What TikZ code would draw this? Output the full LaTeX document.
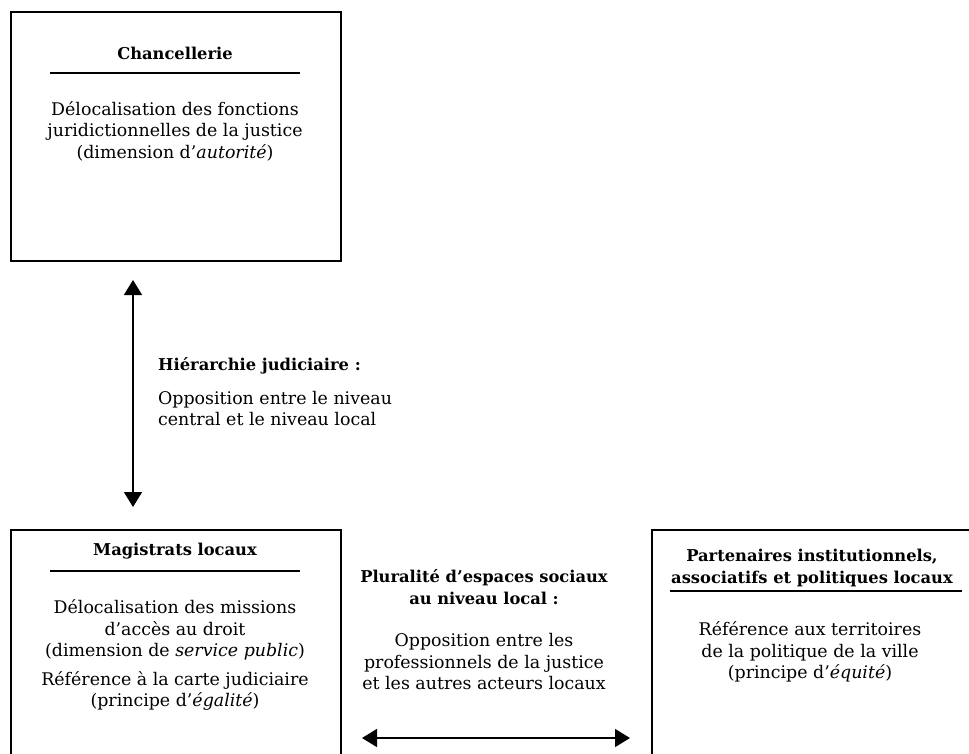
\documentclass[tikz,border=0pt]{standalone}
\usepackage{fontspec}
\setmainfont{DejaVu Serif}
\usetikzlibrary{positioning,arrows.meta}

\begin{document}
\begin{tikzpicture}[x=1pt, y=-1pt,
  every node/.style={font=\fontsize{17.4}{21.5}\selectfont, inner sep=0pt},
  box/.style={draw, line width=1.5pt, anchor=north west},
  title/.style={font=\fontsize{16.3}{21.5}\selectfont\bfseries, align=center},
  body/.style={align=center},
  rule/.style={line width=1.2pt},
  arr/.style={line width=1.5pt, {Triangle[width=18pt,length=15pt]}-{Triangle[width=18pt,length=15pt]}}]
\clip (0,0) rectangle (969,753);
% boxes
\node[box, minimum width=330, minimum height=249] (chan) at (10,11) {};
\node[box, minimum width=330, minimum height=260] (mag) at (10,529) {};
\node[box, minimum width=340, minimum height=260] (part) at (651,529) {};
% chancellerie
\node[title] (chantitle) at (175,53) {Chancellerie};
\draw[rule] (50,73) -- (300,73);
\node[body] (chantext) at (175,131) {Délocalisation des fonctions\\juridictionnelles de la justice\\(dimension d’\textit{autorité})};
% hierarchie
\coordinate (hup) at (133,280);
\coordinate (hdown) at (133,507);
\draw[arr] (hup) -- (hdown);
\node[title, anchor=west] (hiertitle) at (158,366) {Hiérarchie judiciaire :};
\node[body, align=left, anchor=north west] (hiertext) at (158,391) {Opposition entre le niveau\\central et le niveau local};
% magistrats
\node[title] (magtitle) at (175,551) {Magistrats locaux};
\draw[rule] (50,571) -- (300,571);
\node[body] (magtext) at (175,630) {Délocalisation des missions\\d’accès au droit\\(dimension de \textit{service public})};
\node[body] (magref) at (175,691) {Référence à la carte judiciaire\\(principe d’\textit{égalité})};
% pluralite
\node[title] (plurtitle) at (484,587) {Pluralité d’espaces sociaux\\au niveau local :};
\node[body] (plurtext) at (484,662) {Opposition entre les\\professionnels de la justice\\et les autres acteurs locaux};
\coordinate (hleft) at (362,738);
\coordinate (hright) at (630,738);
\draw[arr] (hleft) -- (hright);
% partenaires
\node[title] (parttitle) at (812,568) {Partenaires institutionnels,\\associatifs et politiques locaux};
\draw[rule] (670,591) -- (962,591);
\node[body] (parttext) at (810,652) {Référence aux territoires\\de la politique de la ville\\(principe d’\textit{équité})};
\end{tikzpicture}
\end{document}
